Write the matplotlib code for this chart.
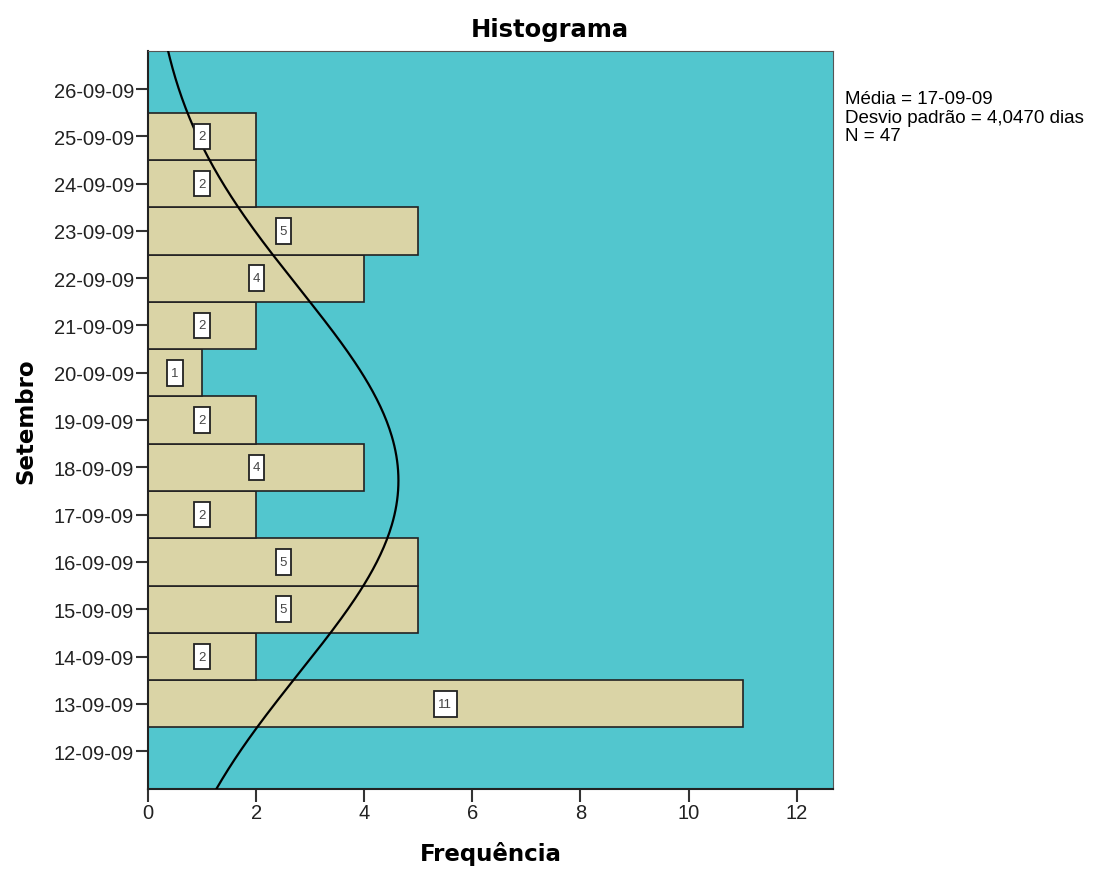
import numpy as np
import matplotlib.pyplot as plt
from matplotlib.patches import Rectangle

plt.rcParams['font.family'] = ['Liberation Sans', 'DejaVu Sans']

# days of September 2009 and histogram counts
days = [13, 14, 15, 16, 17, 18, 19, 20, 21, 22, 23, 24, 25]
counts = [11, 2, 5, 5, 2, 4, 2, 1, 2, 4, 5, 2, 2]
tick_days = list(range(12, 27))
tick_labels = ['%02d-09-09' % d for d in tick_days]
mean_day = 17.72
sd_days = 4.0470
n_total = 47

fig = plt.figure(figsize=(11, 8.7), dpi=100)
ax = fig.add_axes([0.1345, 0.092, 0.6227, 0.848])
ax.set_facecolor('#52C6CE')

ax.barh(days, counts, height=1.0, color='#DAD4A6', edgecolor='#222222', linewidth=1.2, zorder=2)

for d, c in zip(days, counts):
    w = 0.28 if c < 10 else 0.42
    ax.add_patch(Rectangle((c / 2 - w / 2, d - 0.27), w, 0.54, fc='white', ec='#222222', lw=1.3, zorder=4))
    ax.text(c / 2, d, str(c), ha='center', va='center', fontsize=9.5, color='#444444', zorder=5)

# normal curve
yy = np.linspace(11.2, 26.8, 300)
xx = n_total / (sd_days * np.sqrt(2 * np.pi)) * np.exp(-0.5 * ((yy - mean_day) / sd_days) ** 2)
ax.plot(xx, yy, color='black', lw=1.6, zorder=3)

ax.set_xlim(0, 12.67)
ax.set_ylim(11.2, 26.8)
ax.set_xticks(range(0, 13, 2))
ax.set_yticks(tick_days)
ax.set_yticklabels(tick_labels)
ax.tick_params(axis='both', labelsize=14.5, length=9, width=1.5, color='#333333', labelcolor='#222222', pad=1)
for s in ['left', 'bottom']:
    ax.spines[s].set_color('#222222')
    ax.spines[s].set_linewidth(1.5)
for s in ['top', 'right']:
    ax.spines[s].set_color('#555555')

fig.text(0.5, 0.965, 'Histograma', fontsize=17.5, fontweight='bold', family='DejaVu Sans',
         ha='center', va='center')
ax.set_xlabel('Frequência', fontsize=16.5, fontweight='bold', labelpad=14, family='DejaVu Sans')
ax.set_ylabel('Setembro', fontsize=16.5, fontweight='bold', labelpad=12, family='DejaVu Sans')

fig.text(0.768, 0.895, 'Média = 17-09-09\nDesvio padrão = 4,0470 dias\nN = 47',
         fontsize=13.5, va='top', ha='left', linespacing=1.12)

fig.savefig('out.png')
